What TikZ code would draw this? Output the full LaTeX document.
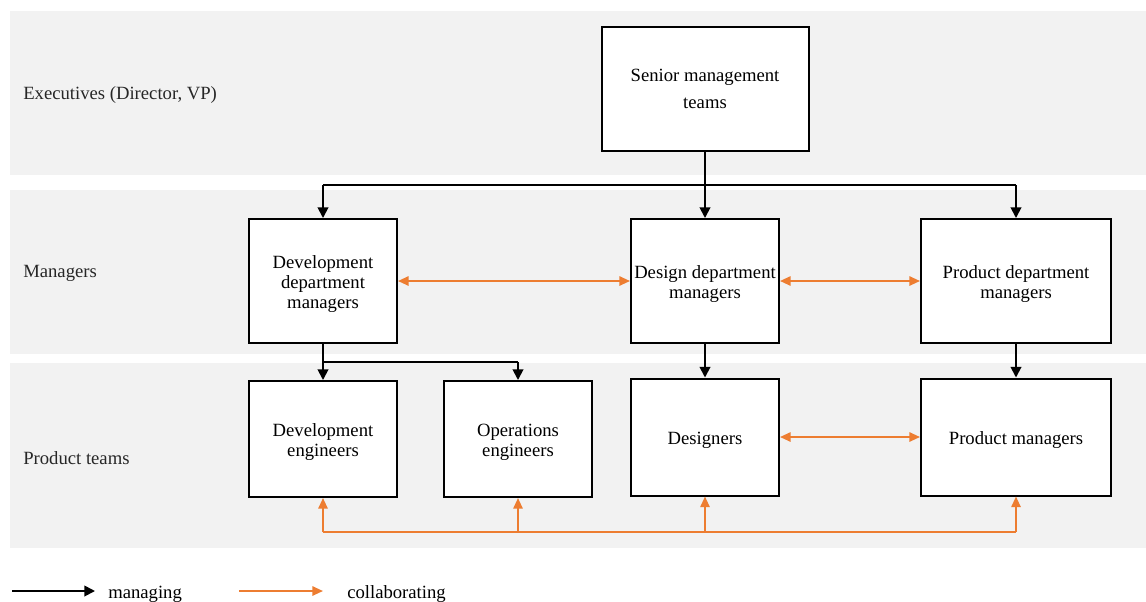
\documentclass[tikz,border=0pt]{standalone}
\usepackage{fontspec}
\setmainfont{Liberation Serif}
\usetikzlibrary{arrows.meta}
\definecolor{band}{HTML}{F2F2F2}
\definecolor{collab}{HTML}{ED7D31}
\begin{document}
\begin{tikzpicture}[x=0.75pt,y=-0.75pt,
  lane/.style={fill=band,draw=none},
  box/.style={draw=black,line width=1.5pt,fill=white,align=center,inner sep=1pt,font=\fontsize{14}{15}\selectfont},
  lanelabel/.style={anchor=west,inner sep=0pt,font=\fontsize{14}{16}\selectfont,text=black!85},
  manage/.style={draw=black,line width=1.4pt,-{Triangle[length=8pt,width=8pt]}},
  collabarr/.style={draw=collab,line width=1.4pt,{Triangle[length=8pt,width=7pt]}-{Triangle[length=8pt,width=7pt]}},
  collabone/.style={draw=collab,line width=1.4pt,-{Triangle[length=8pt,width=7pt]}}]
\useasboundingbox (0,0) rectangle (1146,601);
% swim lanes
\fill[lane] (10,11) rectangle (1146,175);
\fill[lane] (10,190) rectangle (1146,354);
\fill[lane] (10,363) rectangle (1146,548);
\node[lanelabel] (l1) at (23,95) {Executives (Director, VP)};
\node[lanelabel] (l2) at (23,273) {Managers};
\node[lanelabel] (l3) at (23,458) {Product teams};
% boxes
\node[box,minimum width=207*0.75pt,minimum height=124*0.75pt,font=\fontsize{14}{20}\selectfont] (senior) at (705,89) {Senior management\\teams};
\node[box,minimum width=148*0.75pt,minimum height=124*0.75pt] (devm) at (323,281) {\rule{0pt}{14pt}Development\\department\\managers};
\node[box,minimum width=148*0.75pt,minimum height=124*0.75pt] (desm) at (705,281) {\rule{0pt}{14pt}Design department\\managers};
\node[box,minimum width=190*0.75pt,minimum height=124*0.75pt] (prodm) at (1016,281) {\rule{0pt}{14pt}Product department\\managers};
\node[box,minimum width=148*0.75pt,minimum height=116*0.75pt] (deve) at (323,439) {\rule{0pt}{14pt}Development\\engineers};
\node[box,minimum width=148*0.75pt,minimum height=116*0.75pt] (opse) at (518,439) {\rule{0pt}{14pt}Operations\\engineers};
\node[box,minimum width=148*0.75pt,minimum height=117*0.75pt] (des) at (705,437) {\rule{0pt}{14pt}Designers};
\node[box,minimum width=190*0.75pt,minimum height=117*0.75pt] (prod) at (1016,437) {\rule{0pt}{14pt}Product managers};
% managing lines
\coordinate (sj) at (705,185);
\draw[line width=1.4pt] (senior.south) -- (sj);
\draw[line width=1.4pt] (devm.north |- sj) -- (prodm.north |- sj);
\draw[manage] (devm.north |- sj) -- (devm.north);
\draw[manage] (sj) -- (desm.north);
\draw[manage] (prodm.north |- sj) -- (prodm.north);
\coordinate (dj) at (323,362);
\draw[line width=1.4pt] (devm.south) -- (dj) -- (opse.north |- dj);
\draw[manage] (dj) -- (deve.north);
\draw[manage] (opse.north |- dj) -- (opse.north);
\draw[manage] (desm.south) -- (des.north);
\draw[manage] (prodm.south) -- (prod.north);
% collaborating lines
\draw[collabarr] (devm.east) -- (desm.west);
\draw[collabarr] (desm.east) -- (prodm.west);
\draw[collabarr] (des.east) -- (prod.west);
\coordinate (cj) at (323,532);
\draw[draw=collab,line width=1.4pt] (deve.south |- cj) -- (prod.south |- cj);
\draw[collabone] (deve.south |- cj) -- (deve.south);
\draw[collabone] (opse.south |- cj) -- (opse.south);
\draw[collabone] (des.south |- cj) -- (des.south);
\draw[collabone] (prod.south |- cj) -- (prod.south);
% legend
\coordinate (ma) at (12,591);
\coordinate (mb) at (95,591);
\coordinate (ca) at (239,591);
\coordinate (cb) at (323,591);
\draw[manage] (ma) -- (mb);
\draw[collabone] (ca) -- (cb);
\node[anchor=base west,font=\fontsize{14}{16}\selectfont,inner sep=0pt] (lm) at (108,598) {managing};
\node[anchor=base west,font=\fontsize{14}{16}\selectfont,inner sep=0pt] (lc) at (347,598) {collaborating};
\end{tikzpicture}
\end{document}
